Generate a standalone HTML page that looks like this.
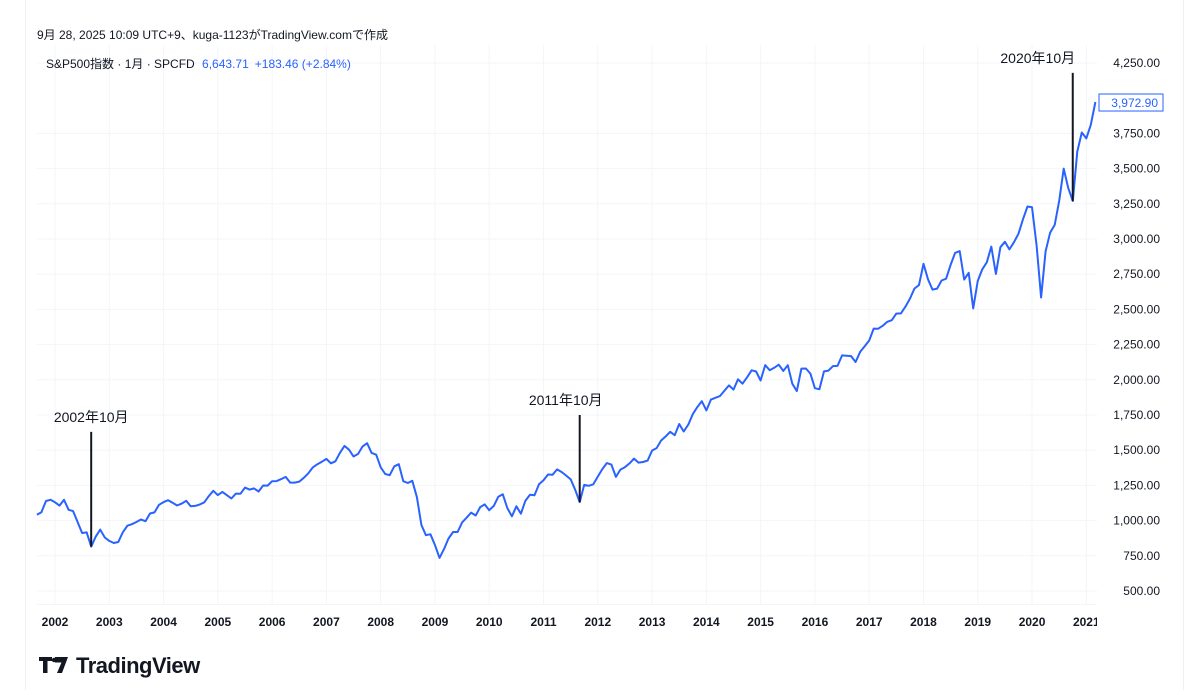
<!DOCTYPE html>
<html><head><meta charset="utf-8"><style>
body{margin:0;background:#fff;font-family:"Liberation Sans","Noto Sans CJK JP",sans-serif;}
svg text{font-family:"Liberation Sans","Noto Sans CJK JP",sans-serif;}
</style></head><body>
<svg id="c" width="1200" height="690" xmlns="http://www.w3.org/2000/svg">
<line x1="25.5" y1="0" x2="25.5" y2="690" stroke="#eef0f3"/>
<line x1="1183.5" y1="0" x2="1183.5" y2="690" stroke="#eef0f3"/>
<text x="37" y="39" font-size="12" fill="#131722">9月 28, 2025 10:09 UTC+9、kuga-1123がTradingView.comで作成</text>
<g id="grid"></g>
<g id="xaxis"></g>
<g id="yaxis"></g>
<path id="line" fill="none" stroke="#2962ff" stroke-width="2" stroke-linejoin="round"/>
<g id="ann"></g>
<text x="46" y="68" font-size="12" fill="#131722">S&amp;P500指数 · 1月 · SPCFD <tspan fill="#2962ff" dx="4">6,643.71</tspan><tspan fill="#2962ff" dx="6">+183.46 (+2.84%)</tspan></text>
<g>
<path d="M39 657h13v4h-4.5v12h-4.5v-12h-4z M55 657h13l-6 16h-5l4.5-10.5h-6.5z" fill="#131722"/>
<circle cx="54" cy="660" r="2.2" fill="#131722"/>
<text x="76" y="673" font-size="22" font-weight="bold" fill="#131722" letter-spacing="-0.5">TradingView</text>
</g>
</svg>
<script>
const startYear = 2001, startMonth = 9; // Sep 2001
const closes = [1040.94,1059.78,1139.45,1148.08,
1130.20,1106.73,1147.39,1076.92,1067.14,989.82,911.62,916.07,815.28,885.76,936.31,879.82,
855.70,841.15,848.18,916.92,963.59,974.50,990.31,1008.01,995.97,1050.71,1058.20,1111.92,
1131.13,1144.94,1126.21,1107.30,1120.68,1140.84,1101.72,1104.24,1114.58,1130.20,1173.82,1211.92,
1181.27,1203.60,1180.59,1156.85,1191.50,1191.33,1234.18,1220.33,1228.81,1207.01,1249.48,1248.29,
1280.08,1280.66,1294.83,1310.61,1270.09,1270.20,1276.66,1303.82,1335.85,1377.94,1400.63,1418.30,
1438.24,1406.82,1420.86,1482.37,1530.62,1503.35,1455.27,1473.99,1526.75,1549.38,1481.14,1468.36,
1378.55,1330.63,1322.70,1385.59,1400.38,1280.00,1267.38,1282.83,1166.36,968.75,896.24,903.25,
825.88,735.09,797.87,872.81,919.14,919.32,987.48,1020.62,1057.08,1036.19,1095.63,1115.10,
1073.87,1104.49,1169.43,1186.69,1089.41,1030.71,1101.60,1049.33,1141.20,1183.26,1180.55,1257.64,
1286.12,1327.22,1325.83,1363.61,1345.20,1320.64,1292.28,1218.89,1131.42,1253.30,1246.96,1257.60,
1312.41,1365.68,1408.47,1397.91,1310.33,1362.16,1379.32,1406.58,1440.67,1412.16,1416.18,1426.19,
1498.11,1514.68,1569.19,1597.57,1630.74,1606.28,1685.73,1632.97,1681.55,1756.54,1805.81,1848.36,
1782.59,1859.45,1872.34,1883.95,1923.57,1960.23,1930.67,2003.37,1972.29,2018.05,2067.56,2058.90,
1994.99,2104.50,2067.89,2085.51,2107.39,2063.11,2103.84,1972.18,1920.03,2079.36,2080.41,2043.94,
1940.24,1932.23,2059.74,2065.30,2096.95,2098.86,2173.60,2170.95,2168.27,2126.15,2198.81,2238.83,
2278.87,2363.64,2362.72,2384.20,2411.80,2423.41,2470.30,2471.65,2519.36,2575.26,2647.58,2673.61,
2823.81,2713.83,2640.87,2648.05,2705.27,2718.37,2816.29,2901.52,2913.98,2711.74,2760.17,2506.85,
2704.10,2784.49,2834.40,2945.83,2752.06,2941.76,2980.38,2926.46,2976.74,3037.56,3140.98,3230.78,
3225.52,2954.22,2584.59,2912.43,3044.31,3100.29,3271.12,3500.31,3363.00,3269.96,3621.63,3756.07,
3714.24,3811.15,3972.89];
const yTicks = [500,750,1000,1250,1500,1750,2000,2250,2500,2750,3000,3250,3500,3750,4250];
const xYears = [2002,2003,2004,2005,2006,2007,2008,2009,2010,2011,2012,2013,2014,2015,2016,2017,2018,2019,2020,2021];
const annotationLabels = ["2002年10月","2011年10月","2020年10月"];
const annotationYears = [2002,2011,2020];
const annotationMonths = [9,9,10];
const annotationTops = [1630,1750,4180];
const labelShift = [0,-14,-35];
const lastLabel = "3,972.90";

const NS="http://www.w3.org/2000/svg";
const xs = t => 55 + (t-2002)*54.28;
const ys = v => 591 - (v-500)/250*35.2;
const tOf = (y,m) => y + (m-1)/12;
function mk(tag,attrs,parent,txt){const e=document.createElementNS(NS,tag);for(const k in attrs)e.setAttribute(k,attrs[k]);if(txt!=null)e.textContent=txt;parent.appendChild(e);return e;}
const grid=document.getElementById('grid'),xa=document.getElementById('xaxis'),ya=document.getElementById('yaxis'),ann=document.getElementById('ann');
yTicks.forEach(v=>{
  const g=mk('line',{x1:37,x2:1097,y1:ys(v),y2:ys(v),stroke:'#f3f5f9'},grid);
  
  
  const t=mk('text',{x:1160,y:ys(v)+4,'font-size':12,fill:'#131722','text-anchor':'end'},ya,v.toLocaleString('en-US',{minimumFractionDigits:2}));
  
  
});
xYears.forEach(y=>{
  const x=xs(y);
  const g=mk('line',{x1:x,x2:x,y1:45,y2:604,stroke:'#f3f5f9'},grid);
  
  
  const t=mk('text',{x:x,y:626,'font-size':12,'font-weight':'bold',fill:'#131722','text-anchor':'middle'},xa,String(y));
  
  
});
mk('line',{x1:37,x2:1097,y1:604.5,y2:604.5,stroke:'#f3f5f9'},grid);
mk('rect',{x:1097,y:0,width:85,height:690,fill:'#fff'},xa);
let d='';
closes.forEach((v,i)=>{const t=tOf(startYear,startMonth)+i/12;d+=(i?'L':'M')+xs(t).toFixed(1)+' '+ys(v).toFixed(1);});
document.getElementById('line').setAttribute('d',d);
annotationLabels.forEach((lab,k)=>{
  const y=annotationYears[k], m=annotationMonths[k];
  const idx=(y-startYear)*12+(m-startMonth);
  const x=xs(tOf(y,m)), yb=ys(closes[idx]);
  const l=mk('line',{x1:x,x2:x,y1:ys(annotationTops[k]),y2:yb,stroke:'#131722','stroke-width':2},ann);
  
  
  const t=mk('text',{x:x+labelShift[k],y:ys(annotationTops[k])-10,'font-size':14,fill:'#131722','text-anchor':'middle'},ann,lab);
  
  
});
const ly=ys(closes[closes.length-1]);
const r=mk('rect',{x:1099,y:ly-8,width:64,height:17,fill:'#fff',stroke:'#2962ff'},ya);


const lt=mk('text',{x:1158,y:ly+5,'font-size':12,fill:'#2962ff','text-anchor':'end'},ya,lastLabel);


</script>
</body></html>
